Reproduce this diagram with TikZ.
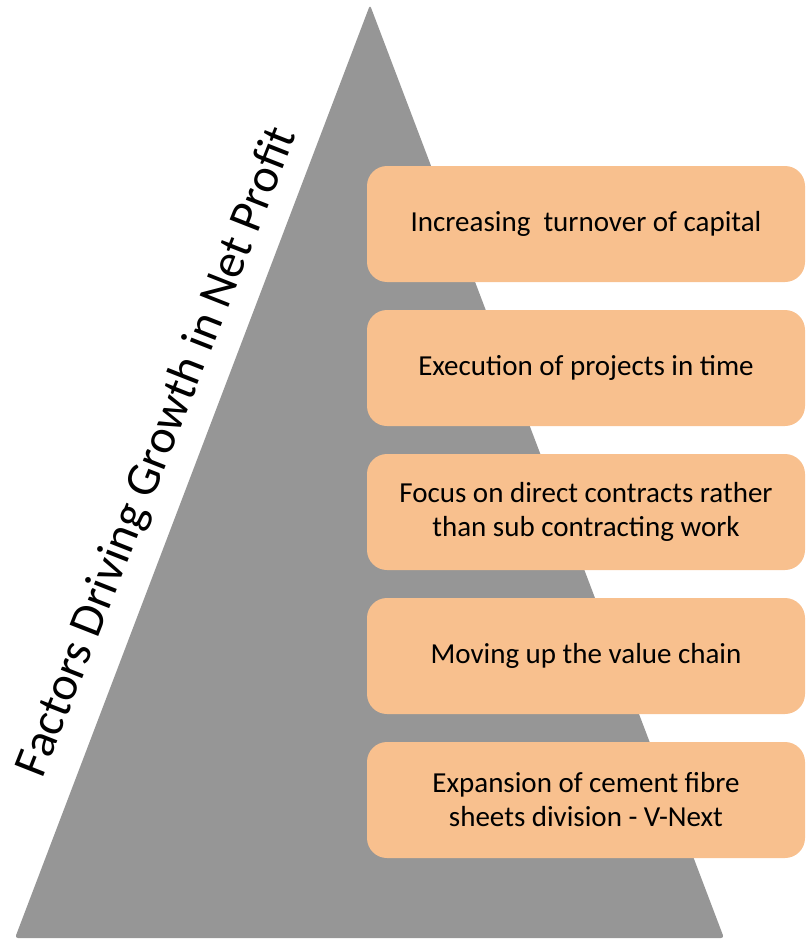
\documentclass[tikz,border=0pt]{standalone}
\usepackage{fontspec}
\setmainfont{Carlito}
\usetikzlibrary{positioning}
\definecolor{peach}{HTML}{F8C08E}
\definecolor{pyramid}{HTML}{969696}
\begin{document}
\begin{tikzpicture}[x=1pt,y=-1pt,
  factor/.style={fill=peach,rounded corners=20pt,minimum width=438pt,minimum height=116pt,align=center,font=\fontsize{29}{34}\selectfont,inner sep=0pt}]
  \useasboundingbox (0,0) rectangle (809,939);
  \coordinate (top) at (370,5);
  \coordinate (bl) at (15,938);
  \coordinate (br) at (724,938);
  \fill[pyramid,rounded corners=3pt] (top) -- (br) -- (bl) -- cycle;

  \node (title) at (158,452) [rotate=68.5,font=\fontsize{48}{54}\selectfont] {Factors Driving Growth in Net Profit};

  \node[factor] (f1) at (586,224) {Increasing\ \ turnover of capital};
  \node[factor] (f2) at (586,368) {Execution of projects in time};
  \node[factor] (f3) at (586,512) {Focus on direct contracts rather\\than sub contracting work};
  \node[factor] (f4) at (586,656) {Moving up the value chain};
  \node[factor] (f5) at (586,800) {Expansion of cement fibre\\sheets division - V-Next};
\end{tikzpicture}
\end{document}
